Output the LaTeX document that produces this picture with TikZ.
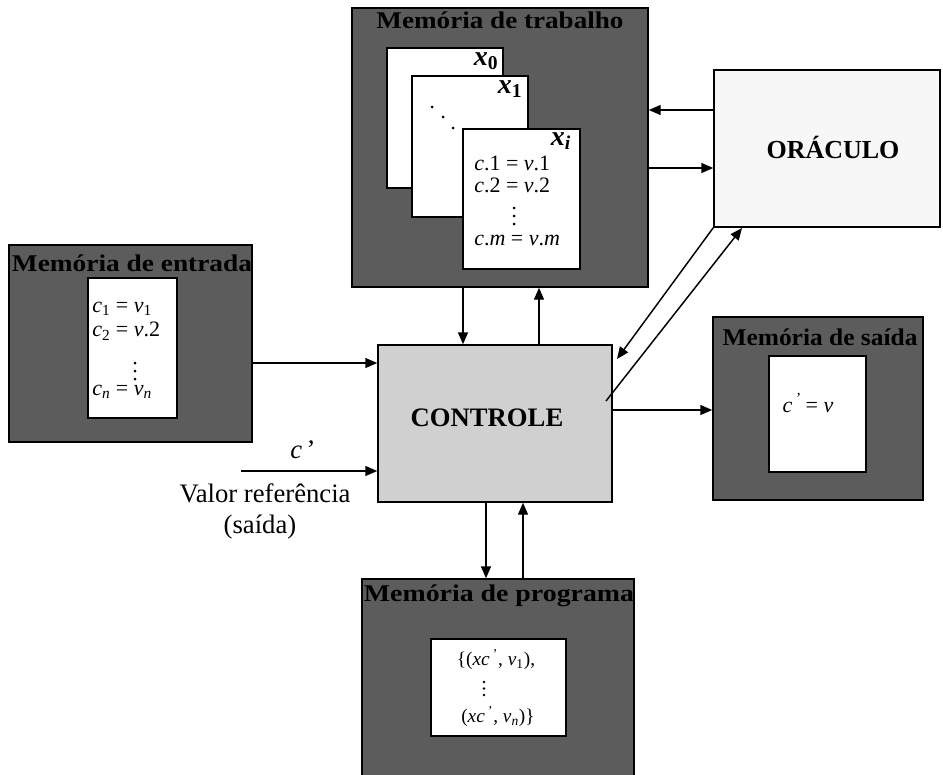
\documentclass[tikz,border=0pt]{standalone}
\usepackage{fontspec}
\setmainfont{Liberation Serif}
\usetikzlibrary{fit,arrows.meta}
\definecolor{memfill}{RGB}{92,92,92}
\definecolor{ctrlfill}{RGB}{208,208,208}
\definecolor{oracfill}{RGB}{247,247,247}

\begin{document}
\begin{tikzpicture}[x=0.75pt,y=-0.75pt,
  membox/.style={draw=black, line width=1.1pt, fill=memfill, inner sep=0pt},
  card/.style={draw=black, line width=1.1pt, fill=white, inner sep=0pt},
  ctrlbox/.style={draw=black, line width=1.1pt, fill=ctrlfill, inner sep=0pt},
  oracbox/.style={draw=black, line width=1.1pt, fill=oracfill, inner sep=0pt},
  memtitle/.style={font=\fontsize{18}{21}\selectfont\bfseries, inner sep=0pt},
  bigtitle/.style={font=\fontsize{20}{24}\selectfont\bfseries, inner sep=0pt},
  cardtxt/.style={font=\fontsize{16.5}{19}\selectfont, inner sep=0pt},
  progtxt/.style={font=\fontsize{14.5}{17}\selectfont, inner sep=0pt},
  pagelbl/.style={font=\fontsize{21}{24}\selectfont\bfseries\itshape, inner sep=0pt},
  sidetxt/.style={font=\fontsize{20}{24}\selectfont, inner sep=0pt},
  flow/.style={line width=1.1pt, -{Triangle[length=9pt,width=7.5pt]}},
  dotr/.style={radius=1.5},
]
\useasboundingbox (0,0) rectangle (943,775);

% ---- memory blocks ----
\node[membox, fit={(352,8) (648,287)}] (trab) {};
\node[membox, fit={(9,245) (252,442)}] (entr) {};
\node[membox, fit={(713,317) (923,500)}] (said) {};
\node[membox, fit={(362,579) (634,790)}] (prog) {};

% ---- control and oracle ----
\node[ctrlbox, fit={(378,345) (612,502)}] (ctrl) {};
\node[oracbox, fit={(714,70) (940,227)}] (orac) {};
\node[bigtitle] (ctrllbl) at (487,418) {CONTROLE};
\node[font=\fontsize{19.5}{23}\selectfont\bfseries, inner sep=0pt] (oraclbl) at (833,147) {ORÁCULO};

% ---- working memory: stacked states ----
\node[card, fit={(387,48) (503,188)}] (st0) {};
\node[card, fit={(412,76) (528,217)}] (st1) {};
\node[card, fit={(463,129) (580,269)}] (sti) {};
\node[pagelbl] (lx0) at (486,61) {x\textsubscript{\upshape 0}};
\node[pagelbl] (lx1) at (510,89) {x\textsubscript{\upshape 1}};
\node[pagelbl] (lxi) at (561,141) {x\textsubscript{i}};
\fill[dotr] (432,107) circle[] (443,117) circle[] (453,128) circle[];
\node[cardtxt, anchor=west] (w1) at (474,163) {\textit{c}.1 = \textit{v}.1};
\node[cardtxt, anchor=west] (w2) at (474,185) {\textit{c}.2 = \textit{v}.2};
\fill[dotr] (514,208) circle[] (514,216) circle[] (514,224) circle[];
\node[cardtxt, anchor=west] (w4) at (474,240) {\textit{c}.\textit{m} = \textit{v}.\textit{m}};

% ---- input memory ----
\node[card, fit={(88,278) (177,418)}] (entrcard) {};
\node[cardtxt, anchor=west] (e1) at (92,309) {\textit{c}\textsubscript{1} = \textit{v}\textsubscript{1}};
\node[cardtxt, anchor=west] (e2) at (92,331) {\textit{c}\textsubscript{2} = \textit{v}.2};
\fill[dotr] (135,363) circle[] (135,371) circle[] (135,379) circle[];
\node[cardtxt, anchor=west] (e4) at (92,392) {\textit{c}\textsubscript{\textit{n}} = \textit{v}\textsubscript{\textit{n}}};

% ---- output memory ----
\node[card, fit={(769,356) (866,472)}] (saidcard) {};
\node[cardtxt] (s1) at (808,403) {\textit{c}\,\textsuperscript{'}\,= \textit{v}};

% ---- program memory ----
\node[card, fit={(431,639) (566,736)}] (progcard) {};
\node[progtxt] (p1) at (496,660) {\{(\textit{xc}\,\textsuperscript{'}, \textit{v}\textsubscript{1}),};
\fill[radius=1.3] (484,682) circle[] (484,688.5) circle[] (484,695) circle[];
\node[progtxt] (p3) at (498,717) {(\textit{xc}\,\textsuperscript{'}, \textit{v}\textsubscript{\textit{n}})\}};

% ---- block titles ----
\node[memtitle] (ttrab) at (500,20) {\scalebox{1.13}[1]{Memória de trabalho}};
\node[memtitle] (tentr) at (132,263) {\scalebox{1.14}[1]{Memória de entrada}};
\node[memtitle] (tsaid) at (820,337) {\scalebox{1.06}[1]{Memória de saída}};
\node[memtitle] (tprog) at (499,596) {\scalebox{1.16}[1]{Memória de programa}};

% ---- reference value input ----
\coordinate (refin) at (241,471);
\node[sidetxt] (cref) at (303,450) {\textit{c}\,’};
\node[sidetxt] (vref) at (265,493) {Valor referência};
\node[sidetxt] (sref) at (260,527) {(saída)};

% ---- connectors ----
\draw[flow] (entr.east |- 0,363) -- (ctrl.west |- 0,363);
\draw[flow] (refin) -- (ctrl.west |- refin);
\draw[flow] (ctrl.east |- 0,410) -- (said.west |- 0,410);
\draw[flow] (trab.south -| 463,0) -- (ctrl.north -| 463,0);
\draw[flow] (ctrl.north -| 539,0) -- (trab.south -| 539,0);
\draw[flow] (ctrl.south -| 486,0) -- (prog.north -| 486,0);
\draw[flow] (prog.north -| 523,0) -- (ctrl.south -| 523,0);
\draw[flow] (orac.west |- 0,110) -- (trab.east |- 0,110);
\draw[flow] (trab.east |- 0,168) -- (orac.west |- 0,168);
\coordinate (diagin) at (617,359);
\coordinate (diagout) at (606,401);
\coordinate (oracin) at (742,228);
\draw[flow] (orac.south west) -- (diagin);
\draw[flow] (diagout) -- (oracin);
\end{tikzpicture}
\end{document}
